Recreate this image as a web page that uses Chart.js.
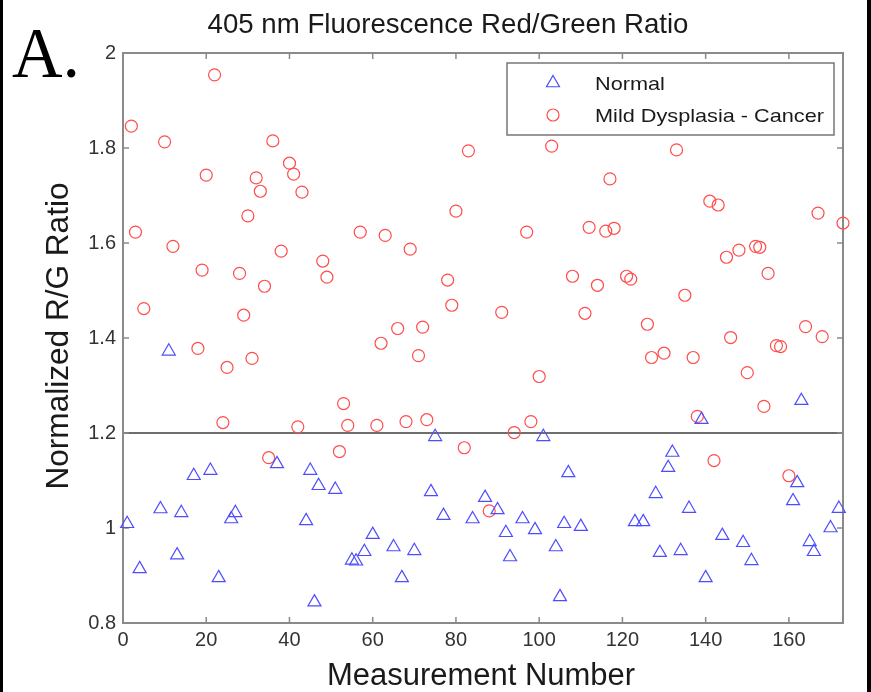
<!DOCTYPE html>
<html lang="en">
<head>
<meta charset="utf-8" />
<title>405 nm Fluorescence Red/Green Ratio</title>
<style>
  html, body { margin: 0; padding: 0; background: #fff; }
  #wrap { width: 871px; height: 692px; }
</style>
</head>
<body>
<div id="wrap"><canvas id="myChart" width="871" height="692"></canvas></div>
<script src="https://cdn.jsdelivr.net/npm/chart.js@4.4.1/dist/chart.umd.min.js"></script>
<script>
var normalX = [1, 4, 9, 11, 13, 14, 17, 21, 23, 26, 27, 37, 44, 45, 46, 47, 51, 55, 56, 58,
  60, 65, 67, 70, 74, 75, 77, 84, 87, 90, 92, 93, 96, 99, 101, 104, 105, 106, 107, 110,
  123, 125, 128, 129, 131, 132, 134, 136, 139, 140, 144, 149, 151, 161, 162, 163, 165, 166, 170, 172];
var normalY = [1.009, 0.914, 1.040, 1.372, 0.943, 1.032, 1.110, 1.121, 0.895, 1.019, 1.032, 1.135, 1.015, 1.121, 0.844, 1.089, 1.081, 0.932, 0.930, 0.950,
  0.986, 0.960, 0.895, 0.952, 1.076, 1.192, 1.026, 1.019, 1.064, 1.038, 0.990, 0.939, 1.019, 0.996, 1.192, 0.960, 0.855, 1.009, 1.116, 1.003,
  1.013, 1.013, 1.072, 0.948, 1.127, 1.159, 0.952, 1.041, 1.228, 0.895, 0.984, 0.969, 0.931, 1.057, 1.095, 1.268, 0.971, 0.950, 1.000, 1.041];

var cancerX = [2, 3, 5, 10, 12, 18, 19, 20, 22, 24, 25, 28, 29, 30, 31, 32, 33, 34, 35, 36,
  38, 40, 41, 42, 43, 48, 49, 52, 53, 54, 57, 61, 62, 63, 66, 68, 69, 71, 72, 73,
  78, 79, 80, 82, 83, 88, 91, 94, 97, 98, 100, 103, 108, 111, 112, 114, 116, 117, 118, 121,
  122, 126, 127, 130, 133, 135, 137, 138, 141, 142, 143, 145, 146, 148, 150, 152, 153, 154, 155, 157,
  158, 160, 164, 167, 168, 173];
var cancerY = [1.846, 1.623, 1.462, 1.813, 1.593, 1.378, 1.543, 1.743, 1.954, 1.222, 1.338, 1.536, 1.448, 1.657, 1.357, 1.737, 1.709, 1.509, 1.148, 1.815,
  1.583, 1.768, 1.745, 1.213, 1.707, 1.562, 1.528, 1.161, 1.262, 1.216, 1.623, 1.216, 1.389, 1.616, 1.420, 1.224, 1.587, 1.363, 1.423, 1.228,
  1.522, 1.469, 1.667, 1.169, 1.794, 1.036, 1.454, 1.201, 1.623, 1.224, 1.319, 1.804, 1.530, 1.452, 1.633, 1.511, 1.625, 1.735, 1.631, 1.530,
  1.524, 1.429, 1.359, 1.368, 1.796, 1.490, 1.359, 1.235, 1.688, 1.142, 1.680, 1.570, 1.401, 1.585, 1.327, 1.593, 1.591, 1.256, 1.536, 1.384,
  1.382, 1.110, 1.424, 1.663, 1.403, 1.642];

var xTicks = [0, 20, 40, 60, 80, 100, 120, 140, 160];
var yTicks = [0.8, 1, 1.2, 1.4, 1.6, 1.8, 2];
var threshold = 1.2;

var FONT = "'Liberation Sans', Arial, sans-serif";
var AXIS_GREY = '#8a8a8a';

function toPoints(xs, ys) {
  var pts = [];
  for (var i = 0; i < xs.length; i++) pts.push({ x: xs[i], y: ys[i] });
  return pts;
}

// draws text squeezed/stretched to a given width, like the old matlab export
function fitText(ctx, text, x, y, font, width, align, rot) {
  ctx.save();
  ctx.font = font;
  var w = ctx.measureText(text).width;
  ctx.translate(x, y);
  if (rot) ctx.rotate(rot);
  ctx.scale(width ? width / w : 1, 1);
  ctx.textAlign = align || 'left';
  ctx.textBaseline = 'alphabetic';
  ctx.fillText(text, 0, 0);
  ctx.restore();
}

var decor = {
  id: 'decor',
  beforeDraw: function (chart) {
    var ctx = chart.ctx;
    ctx.save();
    ctx.fillStyle = '#fff';
    ctx.fillRect(0, 0, chart.width, chart.height);
    ctx.fillStyle = '#000';
    ctx.fillRect(0, 0, 3, chart.height);
    ctx.fillRect(chart.width - 4, 0, 4, chart.height);
    ctx.restore();
  },
  beforeDatasetsDraw: function (chart) {
    var ctx = chart.ctx, a = chart.chartArea;
    var xs = chart.scales.x, ys = chart.scales.y;
    ctx.save();
    // threshold line
    var ty = ys.getPixelForValue(threshold);
    ctx.strokeStyle = '#6e6e6e';
    ctx.lineWidth = 2;
    ctx.beginPath();
    ctx.moveTo(a.left, ty);
    ctx.lineTo(a.right, ty);
    ctx.stroke();
    // box
    ctx.strokeStyle = AXIS_GREY;
    ctx.lineWidth = 2;
    ctx.strokeRect(a.left, a.top, a.right - a.left, a.bottom - a.top);
    // inward ticks on all four sides
    ctx.lineWidth = 1.5;
    ctx.beginPath();
    xs.ticks.forEach(function (t) {
      var px = xs.getPixelForValue(t.value);
      ctx.moveTo(px, a.bottom); ctx.lineTo(px, a.bottom - 6);
      ctx.moveTo(px, a.top); ctx.lineTo(px, a.top + 6);
    });
    ys.ticks.forEach(function (t) {
      var py = ys.getPixelForValue(t.value);
      ctx.moveTo(a.left, py); ctx.lineTo(a.left + 6, py);
      ctx.moveTo(a.right, py); ctx.lineTo(a.right - 6, py);
    });
    ctx.stroke();
    ctx.restore();
  },
  afterDraw: function (chart) {
    var ctx = chart.ctx;
    ctx.save();
    ctx.fillStyle = '#1a1a1a';
    fitText(ctx, '405 nm Fluorescence Red/Green Ratio', 448, 33, '28px ' + FONT, 481, 'center');
    fitText(ctx, 'Measurement Number', 481, 685, '31px ' + FONT, 308, 'center');
    fitText(ctx, 'Normalized R/G Ratio', 68, 336, '31px ' + FONT, 307, 'center', -Math.PI / 2);
    ctx.fillStyle = '#000';
    fitText(ctx, 'A.', 12, 77, "72px 'Liberation Serif', 'Times New Roman', serif", 68, 'left');

    // legend box
    ctx.fillStyle = '#fff';
    ctx.fillRect(507, 63, 327, 72);
    ctx.strokeStyle = '#777';
    ctx.lineWidth = 1.5;
    ctx.strokeRect(507, 63, 327, 72);
    var rows = [83, 115];
    ctx.font = '19px ' + FONT;
    var sx = 229 / ctx.measureText(chart.data.datasets[1].label).width;
    chart.data.datasets.forEach(function (ds, i) {
      ctx.strokeStyle = ds.borderColor;
      ctx.fillStyle = 'rgba(0,0,0,0)';
      ctx.lineWidth = ds.borderWidth;
      Chart.helpers.drawPoint(ctx, {
        pointStyle: ds.pointStyle, radius: ds.pointRadius, rotation: 0, borderWidth: ds.borderWidth
      }, 553, rows[i]);
      ctx.fillStyle = '#1a1a1a';
      ctx.font = '19px ' + FONT;
      var w = ctx.measureText(ds.label).width * sx;
      fitText(ctx, ds.label, 595, rows[i] + 7, '19px ' + FONT, w, 'left');
    });
    ctx.restore();
  }
};

var ctx = document.getElementById('myChart').getContext('2d');
var chart = new Chart(ctx, {
  type: 'scatter',
  data: {
    datasets: [
      {
        label: 'Normal',
        data: toPoints(normalX, normalY),
        pointStyle: 'triangle',
        pointRadius: 7.5,
        pointHoverRadius: 7.5,
        borderColor: '#4d4dff',
        backgroundColor: 'rgba(0,0,0,0)',
        borderWidth: 1.2,
        clip: false
      },
      {
        label: 'Mild Dysplasia - Cancer',
        data: toPoints(cancerX, cancerY),
        pointStyle: 'circle',
        pointRadius: 6,
        pointHoverRadius: 6,
        borderColor: '#ff4d4d',
        backgroundColor: 'rgba(0,0,0,0)',
        borderWidth: 1.2,
        clip: false
      }
    ]
  },
  options: {
    responsive: false,
    animation: false,
    devicePixelRatio: 1,
    layout: { padding: { top: 53, right: 28, left: 0, bottom: 0 } },
    plugins: {
      legend: { display: false },
      title: { display: false },
      tooltip: { enabled: false }
    },
    scales: {
      x: {
        type: 'linear',
        min: 0,
        max: 173,
        grid: { display: false, drawTicks: false },
        border: { display: false },
        ticks: { padding: 5, color: '#333', font: { family: FONT, size: 20 } },
        afterBuildTicks: function (s) { s.ticks = xTicks.map(function (v) { return { value: v }; }); },
        afterFit: function (s) { s.height = 69; }
      },
      y: {
        min: 0.8,
        max: 2,
        grid: { display: false, drawTicks: false },
        border: { display: false },
        ticks: {
          padding: 7, color: '#333', font: { family: FONT, size: 20 },
          callback: function (v) { return String(Math.round(v * 10) / 10); }
        },
        afterBuildTicks: function (s) { s.ticks = yTicks.map(function (v) { return { value: v }; }); },
        afterFit: function (s) { s.width = 123; }
      }
    }
  },
  plugins: [decor]
});
</script>
</body>
</html>
